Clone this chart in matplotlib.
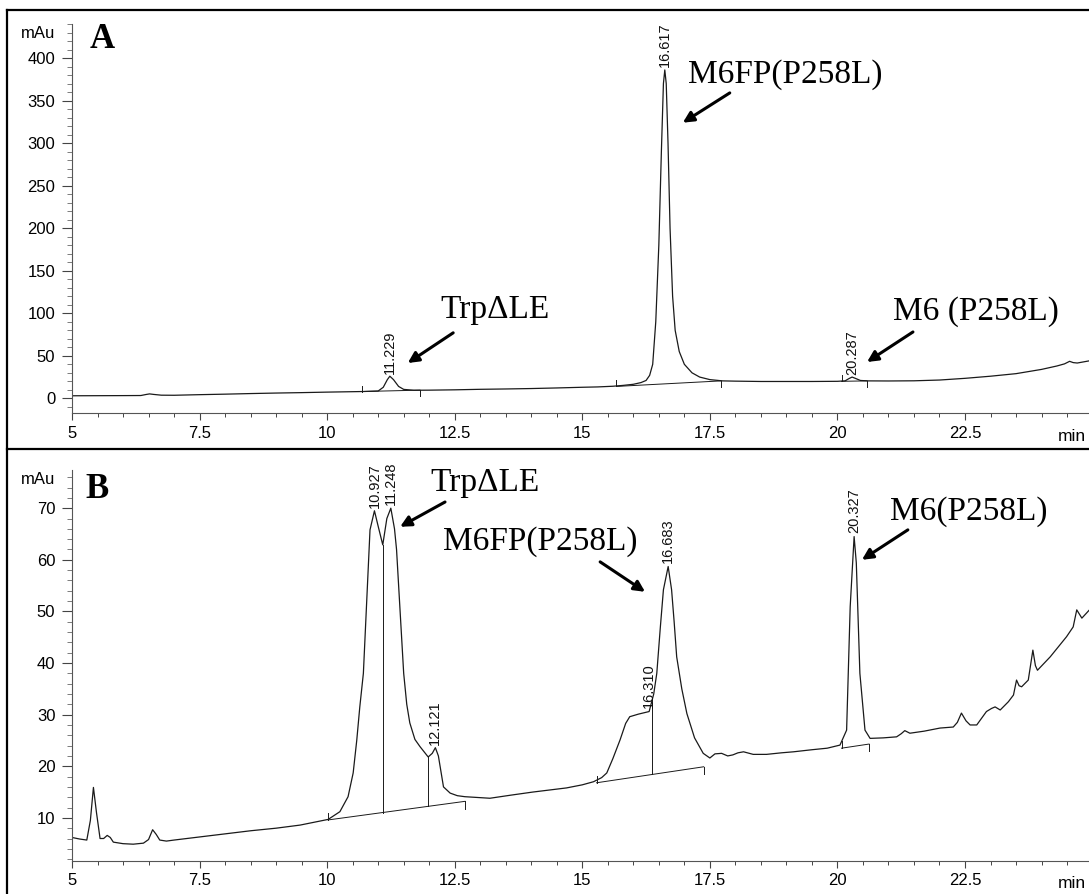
import matplotlib
matplotlib.use('Agg')
import matplotlib.pyplot as plt
import numpy as np
from matplotlib.lines import Line2D
from matplotlib.ticker import MultipleLocator, FixedLocator

plt.rcParams['font.family'] = ['Liberation Sans', 'DejaVu Sans']

# ---- trace A (mAu vs min) ----
time_a = [5.0, 5.5, 6.0, 6.35, 6.45, 6.52, 6.6, 6.75, 7.0, 7.5, 8.0, 8.5, 9.0, 9.5,
          10.0, 10.5, 10.7, 11.0, 11.1, 11.18, 11.229, 11.3, 11.4, 11.5, 11.7, 12.0,
          12.5, 13.0, 13.5, 14.0, 14.5, 15.0, 15.3, 15.6, 15.8, 16.0, 16.15, 16.25,
          16.32, 16.38, 16.44, 16.5, 16.55, 16.59, 16.617, 16.645, 16.68, 16.72,
          16.77, 16.82, 16.9, 17.0, 17.15, 17.3, 17.5, 17.75, 18.0, 18.5, 19.0, 19.5,
          20.0, 20.15, 20.22, 20.287, 20.35, 20.45, 20.6, 21.0, 21.5, 22.0, 22.5,
          23.0, 23.5, 24.0, 24.3, 24.45, 24.55, 24.62, 24.7, 24.93]
signal_a = [3.0, 3.1, 3.2, 3.3, 4.5, 5.2, 4.6, 3.7, 3.6, 4.3, 4.9, 5.6, 6.2, 6.7,
            7.3, 7.8, 8.0, 8.6, 13, 22, 26, 22, 14, 10.5, 9.5, 9.6,
            10.0, 10.6, 11.0, 11.5, 12.2, 13.0, 13.4, 14.2, 15.2, 16.5, 18.5, 21,
            27, 40, 90, 180, 290, 370, 386, 370, 300, 200,
            120, 80, 55, 40, 30, 25, 22, 20.5, 20.2, 19.8, 19.8, 19.8,
            20.0, 20.5, 23, 25, 23.5, 21, 20.5, 20.4, 20.6, 21.5, 23.5,
            26, 29, 34, 38, 40.5, 43.5, 42, 41.5, 44]

# ---- trace B ----
time_b = [5.0, 5.15, 5.29, 5.36, 5.42, 5.48, 5.55, 5.62, 5.69, 5.75, 5.81, 6.0, 6.2,
          6.4, 6.5, 6.58, 6.65, 6.72, 6.85, 7.0, 7.5, 8.0, 8.5, 9.0, 9.47, 10.02,
          10.25, 10.41, 10.51, 10.58, 10.64, 10.71, 10.77, 10.84, 10.927, 11.0,
          11.09, 11.17, 11.248, 11.32, 11.36, 11.43, 11.50, 11.56, 11.62, 11.72,
          11.82, 11.98, 12.06, 12.121, 12.18, 12.28, 12.41, 12.55, 12.70, 13.19,
          13.6, 14.03, 14.69, 15.0, 15.22, 15.38, 15.48, 15.6, 15.74, 15.85, 15.93,
          16.1, 16.31, 16.4, 16.46, 16.53, 16.59, 16.683, 16.75, 16.8, 16.85, 16.95,
          17.05, 17.2, 17.37, 17.50, 17.6, 17.73, 17.85, 17.95, 18.05, 18.16, 18.35,
          18.61, 18.9, 19.14, 19.5, 19.8, 20.05, 20.18, 20.25, 20.327, 20.37, 20.44,
          20.54, 20.64, 20.9, 21.16, 21.25, 21.32, 21.42, 21.7, 22.01, 22.27, 22.35,
          22.43, 22.52, 22.60, 22.73, 22.92, 23.02, 23.09, 23.19, 23.35, 23.45,
          23.51, 23.56, 23.61, 23.74, 23.79, 23.83, 23.88, 23.92, 24.17, 24.49,
          24.62, 24.69, 24.74, 24.79, 24.93]
signal_b = [6.2, 5.9, 5.7, 9.5, 15.9, 11, 6.0, 6.0, 6.6, 6.2, 5.3, 5.0, 4.9,
            5.1, 5.8, 7.7, 6.8, 5.7, 5.5, 5.7, 6.3, 6.9, 7.5, 8.0, 8.6, 9.7,
            11.2, 14.1, 18.7, 25, 31.5, 38, 50.9, 65.8, 69.5, 66.5,
            62.9, 68, 70, 66, 62, 50, 38, 32, 28.4, 25.2,
            23.8, 21.8, 22.5, 23.6, 22, 16.0, 14.8, 14.3, 14.1, 13.8,
            14.4, 15.0, 15.8, 16.4, 17.0, 17.8, 18.7, 21.5, 25.1, 28.3, 29.6,
            30.1, 30.6, 34, 38, 47, 54.2, 58.7, 54.2, 48, 41.2, 35,
            30.2, 25.5, 22.5, 21.6, 22.4, 22.5, 22.0, 22.2, 22.6, 22.8, 22.3,
            22.3, 22.6, 22.8, 23.2, 23.5, 24.1, 27, 50.9, 64.5, 59.4, 38,
            27, 25.4, 25.5, 25.7, 26.3, 26.9, 26.4, 26.8, 27.4, 27.6, 28.5,
            30.3, 28.8, 28.0, 28.0, 30.6, 31.2, 31.5, 30.9, 32.5, 33.8,
            36.7, 35.6, 35.4, 36.7, 40, 42.5, 39.5, 38.6, 41.2, 45.1,
            47.0, 50.3, 49.5, 48.7, 50.2]

# retention times printed above peaks
peaks_a = [11.229, 16.617, 20.287]
peaks_b = [10.927, 11.248, 12.121, 16.310, 16.683, 20.327]

# integration baselines: (t0, y0, t1, y1)
baselines_a = [(10.68, 8.0, 11.82, 9.6), (15.67, 14.0, 17.72, 20.5), (20.08, 20.0, 20.58, 20.5)]
baselines_b = [(10.02, 9.6, 12.70, 13.2), (15.28, 16.8, 17.38, 19.9), (20.08, 23.5, 20.62, 24.3)]
# drop lines in B: time where the trace is split
drops_b = [11.09, 11.98, 16.37]

xticks = [5, 7.5, 10, 12.5, 15, 17.5, 20, 22.5]
xtick_labels = ['5', '7.5', '10', '12.5', '15', '17.5', '20', '22.5']

W, H = 1089, 894
fig = plt.figure(figsize=(W / 100, H / 100), dpi=100)


def px_axes(x0, y_top, y_bot):
    return fig.add_axes([x0 / W, 1 - y_bot / H, (W - x0) / W, (y_bot - y_top) / H])


ax_a = px_axes(72, 24, 413.3)
ax_b = px_axes(72, 470, 860.7)

line_kw = dict(color='#1a1a1a', lw=0.9)
ev_kw = dict(color='#1a1a1a', lw=0.7)


def style_axis(ax, ylim, ymajor, yminor):
    ax.set_xlim(5, 24.93)
    ax.set_ylim(*ylim)
    for s in ('top', 'right'):
        ax.spines[s].set_visible(False)
    for s in ('left', 'bottom'):
        ax.spines[s].set_color('#555555')
        ax.spines[s].set_linewidth(0.8)
    ax.set_xticks(xticks)
    ax.set_xticklabels(xtick_labels)
    ax.xaxis.set_minor_locator(MultipleLocator(0.5))
    ax.yaxis.set_major_locator(FixedLocator(ymajor))
    ax.yaxis.set_minor_locator(MultipleLocator(yminor))
    ax.tick_params(axis='x', which='major', length=5, width=0.8, pad=4,
                   labelsize=12, color='#444444')
    ax.tick_params(axis='x', which='minor', length=3, width=0.7, color='#444444')
    ax.tick_params(axis='y', which='major', length=7, width=0.8, pad=5,
                   labelsize=12, color='#444444')
    ax.tick_params(axis='y', which='minor', length=3.5, width=0.6, color='#666666')
    ax.patch.set_alpha(0)


style_axis(ax_a, (-17.6, 440), list(range(0, 401, 50)), 10)
style_axis(ax_b, (1.7, 77.4), list(range(10, 71, 10)), 2)

# traces
ax_a.plot(time_a, signal_a, **line_kw)
ax_b.plot(time_b, signal_b, **line_kw)

# baselines with event ticks
for ax, bases, tick in ((ax_a, baselines_a, 7.0), (ax_b, baselines_b, 1.4)):
    for t0, y0, t1, y1 in bases:
        ax.plot([t0, t1], [y0, y1], **ev_kw)
        ax.plot([t0, t0], [y0, y0 + tick], **ev_kw)
        ax.plot([t1, t1], [y1, y1 - tick], **ev_kw)

for t in drops_b:
    t0, y0, t1, y1 = next(b for b in baselines_b if b[0] <= t <= b[2])
    yb = y0 + (y1 - y0) * (t - t0) / (t1 - t0)
    ax_b.plot([t, t], [yb, np.interp(t, time_b, signal_b)], **ev_kw)

# retention time labels
for ax, peaks, tx, ty, pad in ((ax_a, peaks_a, time_a, signal_a, 3),
                               (ax_b, peaks_b, time_b, signal_b, 0.6)):
    for p in peaks:
        ax.text(p, np.interp(p, tx, ty) + pad, f'{p:.3f}', rotation=90,
                ha='center', va='bottom', fontsize=10.5, color='#111111')

# compound names and arrows
serif = dict(family=['Liberation Serif', 'DejaVu Serif'], fontsize=24, va='center', ha='left')
arrow = dict(arrowstyle='-|>', color='black', lw=2.2, mutation_scale=16, shrinkA=0, shrinkB=0)

ax_a.text(12.21, 104, 'Trp\u0394LE', **serif)
ax_a.annotate('', xy=(11.58, 41.5), xytext=(12.47, 77), arrowprops=arrow)
ax_a.text(17.07, 380, 'M6FP(P258L)', **serif)
ax_a.annotate('', xy=(16.97, 324), xytext=(17.89, 359), arrowprops=arrow)
ax_a.text(21.09, 101.5, 'M6 (P258L)', **serif)
ax_a.annotate('', xy=(20.58, 42.7), xytext=(21.48, 78), arrowprops=arrow)

ax_b.text(12.02, 74.9, 'Trp\u0394LE', **serif)
ax_b.annotate('', xy=(11.43, 66.4), xytext=(12.31, 71.2), arrowprops=arrow)
ax_b.text(12.27, 63.5, 'M6FP(P258L)', **serif)
ax_b.annotate('', xy=(16.23, 53.8), xytext=(15.35, 59.6), arrowprops=arrow)
ax_b.text(21.03, 69.3, 'M6(P258L)', **serif)
ax_b.annotate('', xy=(20.48, 60.0), xytext=(21.38, 65.8), arrowprops=arrow)

# panel letters, units
def fig_text(x, y, s, **kw):
    fig.text(x / W, 1 - y / H, s, **kw)


fig_text(90, 40, 'A', family=['Liberation Serif'], fontweight='bold', fontsize=25,
         va='center', ha='left')
fig_text(85, 490, 'B', family=['Liberation Serif'], fontweight='bold', fontsize=25,
         va='center', ha='left')
fig_text(55, 33, 'mAu', fontsize=12, ha='right', va='center')
fig_text(55, 480, 'mAu', fontsize=12, ha='right', va='center')
fig_text(1086, 436, 'min', fontsize=12.5, ha='right', va='center')
fig_text(1086, 883, 'min', fontsize=12.5, ha='right', va='center')

# panel frames
frame = dict(color='black', lw=1.6, transform=fig.transFigure)
for yy in (10, 448.5):
    fig.add_artist(Line2D([7 / W, 1.0], [1 - yy / H, 1 - yy / H], **frame))
fig.add_artist(Line2D([7 / W, 7 / W], [1 - 10 / H, 0.0], **frame))

fig.savefig('out.png', dpi=100)
plt.close(fig)
